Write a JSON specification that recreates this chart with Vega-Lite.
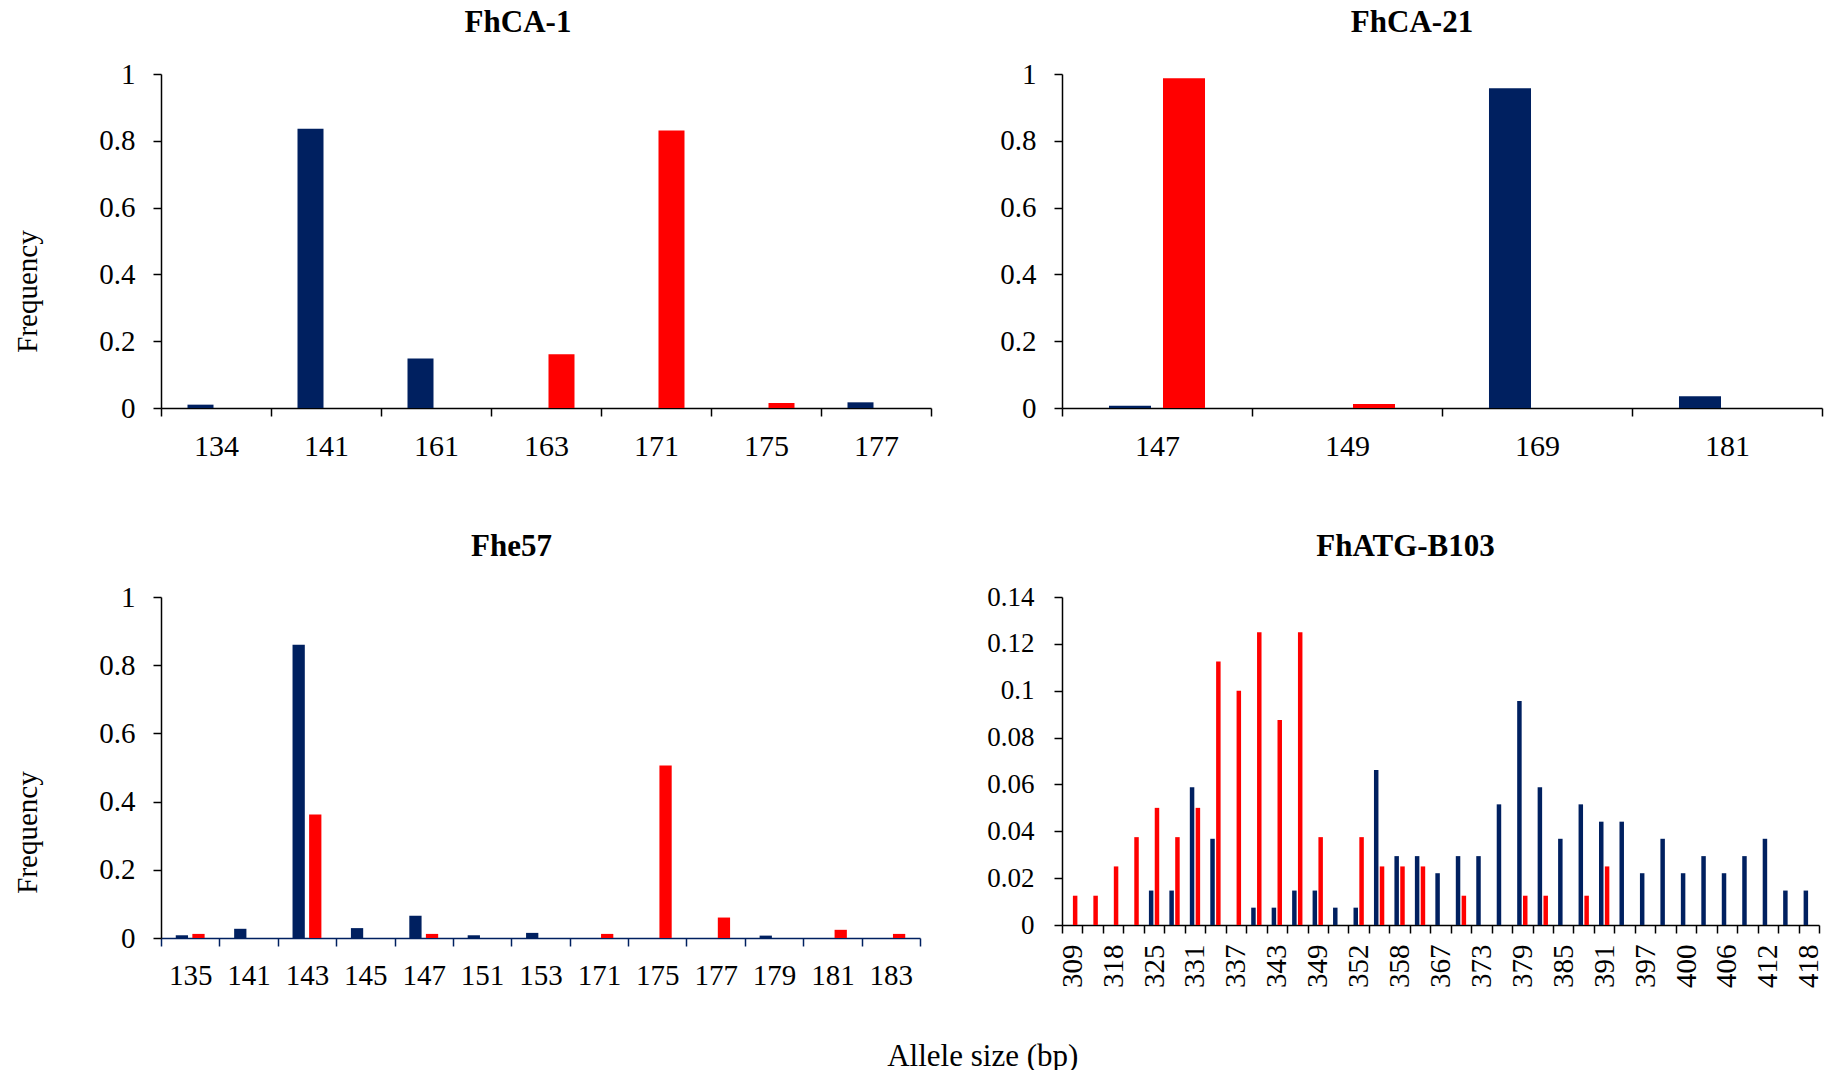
{
  "$schema": "https://vega.github.io/schema/vega-lite/v6.json",
  "background": "white",
  "padding": {"left": 13, "top": 7, "right": 5, "bottom": 0},
  "config": {
    "font": "Liberation Serif",
    "view": {"stroke": null},
    "axis": {"domainColor": "black", "tickColor": "black", "labelColor": "black", "titleColor": "black", "domainWidth": 1.5, "tickWidth": 1.5, "tickSize": 8, "grid": false, "labelFont": "Liberation Serif", "titleFont": "Liberation Serif", "titleFontWeight": "normal"},
    "title": {"font": "Liberation Serif", "fontWeight": "bold", "fontSize": 31, "color": "black"}
  },
  "datasets": {
    "fhca1": [
      {"a": "134", "g": "P1", "f": 0.010},
      {"a": "141", "g": "P1", "f": 0.836},
      {"a": "161", "g": "P1", "f": 0.148},
      {"a": "163", "g": "P2", "f": 0.161},
      {"a": "171", "g": "P2", "f": 0.831},
      {"a": "175", "g": "P2", "f": 0.015},
      {"a": "177", "g": "P1", "f": 0.017}
    ],
    "fhca21": [
      {"a": "147", "g": "P1", "f": 0.007},
      {"a": "147", "g": "P2", "f": 0.987},
      {"a": "149", "g": "P2", "f": 0.012},
      {"a": "169", "g": "P1", "f": 0.957},
      {"a": "181", "g": "P1", "f": 0.035}
    ],
    "fhe57": [
      {"a": "135", "g": "P1", "f": 0.008},
      {"a": "135", "g": "P2", "f": 0.012},
      {"a": "141", "g": "P1", "f": 0.027},
      {"a": "143", "g": "P1", "f": 0.860},
      {"a": "143", "g": "P2", "f": 0.362},
      {"a": "145", "g": "P1", "f": 0.029},
      {"a": "147", "g": "P1", "f": 0.065},
      {"a": "147", "g": "P2", "f": 0.012},
      {"a": "151", "g": "P1", "f": 0.008},
      {"a": "153", "g": "P1", "f": 0.015},
      {"a": "171", "g": "P2", "f": 0.012},
      {"a": "175", "g": "P2", "f": 0.506},
      {"a": "177", "g": "P2", "f": 0.060},
      {"a": "179", "g": "P1", "f": 0.007},
      {"a": "181", "g": "P2", "f": 0.024},
      {"a": "183", "g": "P2", "f": 0.012}
    ],
    "fhatg": [
      {"a": "309", "g": "P2", "f": 0.0125},
      {"a": "315", "g": "P2", "f": 0.0125},
      {"a": "318", "g": "P2", "f": 0.025},
      {"a": "322", "g": "P2", "f": 0.0375},
      {"a": "325", "g": "P1", "f": 0.0147},
      {"a": "325", "g": "P2", "f": 0.05},
      {"a": "328", "g": "P1", "f": 0.0147},
      {"a": "328", "g": "P2", "f": 0.0375},
      {"a": "331", "g": "P1", "f": 0.0588},
      {"a": "331", "g": "P2", "f": 0.05},
      {"a": "334", "g": "P1", "f": 0.0368},
      {"a": "334", "g": "P2", "f": 0.1125},
      {"a": "337", "g": "P2", "f": 0.1},
      {"a": "340", "g": "P1", "f": 0.0074},
      {"a": "340", "g": "P2", "f": 0.125},
      {"a": "343", "g": "P1", "f": 0.0074},
      {"a": "343", "g": "P2", "f": 0.0875},
      {"a": "346", "g": "P1", "f": 0.0147},
      {"a": "346", "g": "P2", "f": 0.125},
      {"a": "349", "g": "P1", "f": 0.0147},
      {"a": "349", "g": "P2", "f": 0.0375},
      {"a": "350", "g": "P1", "f": 0.0074},
      {"a": "352", "g": "P1", "f": 0.0074},
      {"a": "352", "g": "P2", "f": 0.0375},
      {"a": "355", "g": "P1", "f": 0.0662},
      {"a": "355", "g": "P2", "f": 0.025},
      {"a": "358", "g": "P1", "f": 0.0294},
      {"a": "358", "g": "P2", "f": 0.025},
      {"a": "361", "g": "P1", "f": 0.0294},
      {"a": "361", "g": "P2", "f": 0.025},
      {"a": "367", "g": "P1", "f": 0.0221},
      {"a": "370", "g": "P1", "f": 0.0294},
      {"a": "370", "g": "P2", "f": 0.0125},
      {"a": "373", "g": "P1", "f": 0.0294},
      {"a": "376", "g": "P1", "f": 0.0515},
      {"a": "379", "g": "P1", "f": 0.0956},
      {"a": "379", "g": "P2", "f": 0.0125},
      {"a": "382", "g": "P1", "f": 0.0588},
      {"a": "382", "g": "P2", "f": 0.0125},
      {"a": "385", "g": "P1", "f": 0.0368},
      {"a": "388", "g": "P1", "f": 0.0515},
      {"a": "388", "g": "P2", "f": 0.0125},
      {"a": "391", "g": "P1", "f": 0.0441},
      {"a": "391", "g": "P2", "f": 0.025},
      {"a": "394", "g": "P1", "f": 0.0441},
      {"a": "397", "g": "P1", "f": 0.0221},
      {"a": "398", "g": "P1", "f": 0.0368},
      {"a": "400", "g": "P1", "f": 0.0221},
      {"a": "403", "g": "P1", "f": 0.0294},
      {"a": "406", "g": "P1", "f": 0.0221},
      {"a": "409", "g": "P1", "f": 0.0294},
      {"a": "412", "g": "P1", "f": 0.0368},
      {"a": "415", "g": "P1", "f": 0.0147},
      {"a": "418", "g": "P1", "f": 0.0147}
    ]
  },
  "bounds": "flush",
  "columns": 2,
  "align": "each",
  "spacing": {"row": 189, "column": 131},
  "resolve": {"scale": {"x": "independent", "xOffset": "independent", "y": "independent"}},
  "title": {"text": "Allele size (bp)", "orient": "bottom", "anchor": "middle", "frame": "bounds", "fontWeight": "normal", "fontSize": 31, "baseline": "alphabetic", "offset": 76, "dx": 64},
  "concat": [
    {
      "data": {"name": "fhca1"},
      "width": 770,
      "height": 334,
      "title": {"text": "FhCA-1", "frame": "group", "dx": -28, "offset": -3, "baseline": "alphabetic"},
      "mark": {"type": "bar"},
      "encoding": {
        "x": {"field": "a", "type": "nominal", "sort": "ascending", "scale": {"paddingInner": 0, "paddingOuter": 0}, "axis": {"title": null, "labelAngle": 0, "tickBand": "extent", "labelFontSize": 30, "labelPadding": 15}},
        "xOffset": {"field": "g", "type": "nominal", "scale": {"domain": ["P1", "P2"], "paddingInner": 0.161, "paddingOuter": 0.855}},
        "y": {"field": "f", "type": "quantitative", "scale": {"domain": [0, 1]}, "axis": {"title": "Frequency", "values": [0, 0.2, 0.4, 0.6, 0.8, 1], "format": "~g", "labelFontSize": 29, "labelPadding": 18, "titleFontSize": 29, "titleY": 217, "titlePadding": 56}},
        "color": {"field": "g", "type": "nominal", "scale": {"domain": ["P1", "P2"], "range": ["#002060", "#FF0000"]}, "legend": null}
      }
    },
    {
      "data": {"name": "fhca21"},
      "width": 760,
      "height": 334,
      "title": {"text": "FhCA-21", "frame": "group", "dx": -30, "offset": -3, "baseline": "alphabetic"},
      "mark": {"type": "bar"},
      "encoding": {
        "x": {"field": "a", "type": "nominal", "sort": "ascending", "scale": {"paddingInner": 0, "paddingOuter": 0}, "axis": {"title": null, "labelAngle": 0, "tickBand": "extent", "labelFontSize": 30, "labelPadding": 15}},
        "xOffset": {"field": "g", "type": "nominal", "scale": {"domain": ["P1", "P2"], "paddingInner": 0.222, "paddingOuter": 0.87}},
        "y": {"field": "f", "type": "quantitative", "scale": {"domain": [0, 1]}, "axis": {"title": null, "values": [0, 0.2, 0.4, 0.6, 0.8, 1], "format": "~g", "labelFontSize": 29, "labelPadding": 18}},
        "color": {"field": "g", "type": "nominal", "scale": {"domain": ["P1", "P2"], "range": ["#002060", "#FF0000"]}, "legend": null}
      }
    },
    {
      "data": {"name": "fhe57"},
      "width": 759,
      "height": 341,
      "title": {"text": "Fhe57", "frame": "group", "dx": -29, "offset": -4, "baseline": "alphabetic"},
      "mark": {"type": "bar"},
      "encoding": {
        "x": {"field": "a", "type": "nominal", "sort": "ascending", "scale": {"paddingInner": 0, "paddingOuter": 0}, "axis": {"title": null, "labelAngle": 0, "tickBand": "extent", "labelFontSize": 29, "labelPadding": 15, "domainColor": "#002060", "tickColor": "#002060"}},
        "xOffset": {"field": "g", "type": "nominal", "scale": {"domain": ["P1", "P2"], "paddingInner": 0.26, "paddingOuter": 0.89}},
        "y": {"field": "f", "type": "quantitative", "scale": {"domain": [0, 1]}, "axis": {"title": "Frequency", "values": [0, 0.2, 0.4, 0.6, 0.8, 1], "format": "~g", "labelFontSize": 29, "labelPadding": 18, "titleFontSize": 29, "titleY": 235, "titlePadding": 56}},
        "color": {"field": "g", "type": "nominal", "scale": {"domain": ["P1", "P2"], "range": ["#002060", "#FF0000"]}, "legend": null}
      }
    },
    {
      "data": {"name": "fhatg"},
      "width": 757,
      "height": 328,
      "title": {"text": "FhATG-B103", "frame": "group", "dx": -35, "offset": -4, "baseline": "alphabetic"},
      "mark": {"type": "bar"},
      "encoding": {
        "x": {"field": "a", "type": "nominal", "sort": "ascending", "scale": {"paddingInner": 0, "paddingOuter": 0}, "axis": {"title": null, "labelAngle": -90, "tickBand": "extent", "labelFontSize": 29, "labelPadding": 11, "labelOverlap": false, "labelExpr": "indexof(['309','318','325','331','337','343','349','352','358','367','373','379','385','391','397','400','406','412','418'], datum.value) >= 0 ? datum.label : ''"}},
        "xOffset": {"field": "g", "type": "nominal", "scale": {"domain": ["P1", "P2"], "paddingInner": 0.23, "paddingOuter": 0.87}},
        "y": {"field": "f", "type": "quantitative", "scale": {"domain": [0, 0.14]}, "axis": {"title": null, "values": [0, 0.02, 0.04, 0.06, 0.08, 0.1, 0.12, 0.14], "format": "~g", "labelFontSize": 27, "labelPadding": 20}},
        "color": {"field": "g", "type": "nominal", "scale": {"domain": ["P1", "P2"], "range": ["#002060", "#FF0000"]}, "legend": null}
      }
    }
  ]
}
